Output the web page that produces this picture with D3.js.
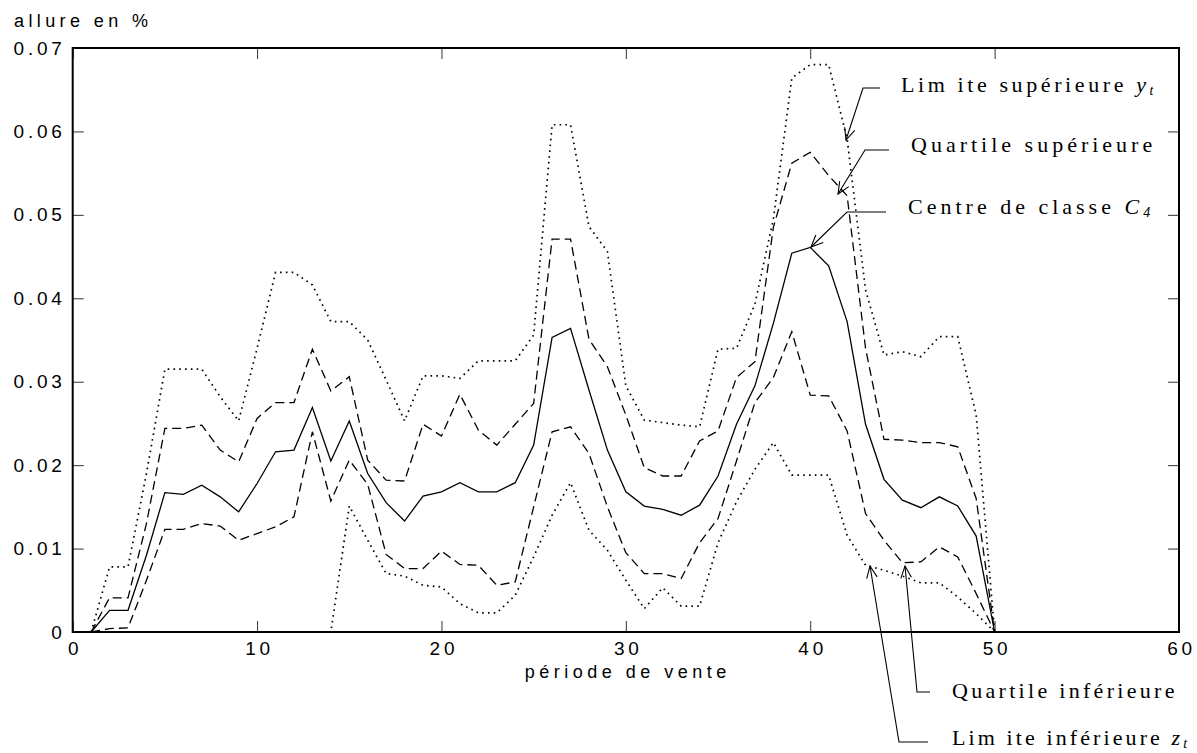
<!DOCTYPE html>
<html>
<head>
<meta charset="utf-8">
<script src="https://cdn.jsdelivr.net/npm/d3@7"></script>
<style>
  body { margin: 0; background: #fff; }
  svg { display: block; }
</style>
</head>
<body>
<div id="chart"></div>
<script>
// periods 1..50 and the five curves
const periods = d3.range(1, 51);

const centre = [0, 0.0026, 0.0026, 0.0092, 0.0167, 0.0165, 0.0176, 0.0162, 0.0144, 0.0178,
  0.0216, 0.0218, 0.0269, 0.0205, 0.0253, 0.0190, 0.0155, 0.0133, 0.0163, 0.0168,
  0.0179, 0.0168, 0.0168, 0.0179, 0.0224, 0.0353, 0.0364, 0.0290, 0.0218, 0.0168,
  0.0151, 0.0147, 0.0140, 0.0152, 0.0187, 0.0249, 0.0295, 0.0370, 0.0454, 0.0461,
  0.0439, 0.0372, 0.0249, 0.0183, 0.0158, 0.0149, 0.0162, 0.0151, 0.0115, 0];

const quartSup = [0, 0.0041, 0.0041, 0.0130, 0.0244, 0.0244, 0.0248, 0.0218, 0.0204, 0.0256,
  0.0275, 0.0275, 0.0339, 0.0289, 0.0306, 0.0206, 0.0182, 0.0181, 0.0249, 0.0235,
  0.0285, 0.0242, 0.0224, 0.0249, 0.0274, 0.0471, 0.0471, 0.0351, 0.0318, 0.0260,
  0.0197, 0.0187, 0.0187, 0.0229, 0.0241, 0.0305, 0.0324, 0.0485, 0.0562, 0.0575,
  0.0547, 0.0523, 0.0340, 0.0231, 0.0230, 0.0227, 0.0227, 0.0222, 0.0160, 0];

const quartInf = [0, 0.0004, 0.0005, 0.0062, 0.0123, 0.0123, 0.0130, 0.0127, 0.0110, 0.0118,
  0.0126, 0.0138, 0.0240, 0.0157, 0.0206, 0.0177, 0.0093, 0.0076, 0.0076, 0.0097,
  0.0081, 0.0080, 0.0056, 0.0060, 0.0150, 0.0240, 0.0246, 0.0214, 0.0150, 0.0095,
  0.0070, 0.0070, 0.0064, 0.0107, 0.0136, 0.0205, 0.0275, 0.0305, 0.0360, 0.0284,
  0.0283, 0.0241, 0.0142, 0.0110, 0.0083, 0.0084, 0.0102, 0.0090, 0.0046, 0];

const limSup = [0, 0.0078, 0.0078, 0.0190, 0.0315, 0.0315, 0.0315, 0.0282, 0.0253, 0.0340,
  0.0431, 0.0431, 0.0416, 0.0372, 0.0372, 0.0350, 0.0302, 0.0253, 0.0307, 0.0307,
  0.0304, 0.0325, 0.0325, 0.0325, 0.0356, 0.0608, 0.0608, 0.0486, 0.0456, 0.0295,
  0.0254, 0.0251, 0.0248, 0.0246, 0.0339, 0.0340, 0.0393, 0.0495, 0.0664, 0.0680,
  0.0680, 0.0591, 0.0410, 0.0332, 0.0336, 0.0330, 0.0354, 0.0354, 0.0260, 0];

const limInf = [0, 0, 0, 0, 0, 0, 0, 0, 0, 0,
  0, 0, 0, 0, 0.0151, 0.0110, 0.0070, 0.0067, 0.0056, 0.0054,
  0.0034, 0.0023, 0.0023, 0.0044, 0.0090, 0.0140, 0.0179, 0.0122, 0.0098, 0.0062,
  0.0028, 0.0053, 0.0031, 0.0031, 0.0107, 0.0156, 0.0195, 0.0227, 0.0188, 0.0188,
  0.0188, 0.0116, 0.0080, 0.0074, 0.0067, 0.0059, 0.0059, 0.0042, 0.0022, 0];

const xTicks = [0, 10, 20, 30, 40, 50, 60];
const yTicks = [0, 0.01, 0.02, 0.03, 0.04, 0.05, 0.06, 0.07];

const width = 1197;
const height = 753;
const margin = {top: 48, right: 18, bottom: 121, left: 72.7};

const svg = d3.select('#chart')
  .append('svg')
  .attr('width', width)
  .attr('height', height);

const x = d3.scaleLinear().domain([0, 60]).range([margin.left, width - margin.right]);
const y = d3.scaleLinear().domain([0, 0.07]).range([height - margin.bottom, margin.top]);

const sans = 'Liberation Sans, Arial, sans-serif';
const serif = 'Liberation Serif, Times New Roman, serif';

//ticks point inward on all four sides
function styleAxis(g) {
  g.select('.domain').remove();
  g.selectAll('.tick line').attr('stroke', '#333').attr('stroke-width', 1);
  g.selectAll('.tick text')
    .attr('font-family', sans)
    .attr('font-size', 19)
    .attr('letter-spacing', 3.8)
    .attr('fill', '#000');
}

svg.append('g')
  .attr('transform', `translate(${margin.left},0)`)
  .call(d3.axisLeft(y).tickValues(yTicks).tickSizeInner(-11).tickSizeOuter(0).tickPadding(7)
    .tickFormat(d => d === 0 ? '0' : d.toFixed(2)))
  .call(styleAxis);

svg.append('g')
  .attr('transform', `translate(${width - margin.right},0)`)
  .call(d3.axisRight(y).tickValues(yTicks).tickSizeInner(-11).tickSizeOuter(0).tickFormat(''))
  .call(styleAxis);

svg.append('g')
  .attr('transform', `translate(0,${height - margin.bottom})`)
  .call(d3.axisBottom(x).tickValues(xTicks).tickSizeInner(-11).tickSizeOuter(0).tickPadding(10))
  .call(styleAxis)
  .selectAll('.tick text').attr('dx', 2);

svg.append('g')
  .attr('transform', `translate(0,${margin.top})`)
  .call(d3.axisTop(x).tickValues(xTicks).tickSizeInner(-11).tickSizeOuter(0).tickFormat(''))
  .call(styleAxis);

//axis titles
svg.append('text')
  .text('allure en %')
  .attr('x', 14)
  .attr('y', 27)
  .attr('font-family', sans)
  .attr('font-size', 18)
  .attr('letter-spacing', 4.4);

svg.append('text')
  .text('période de vente')
  .attr('x', x(30) + 2)
  .attr('y', 678)
  .attr('text-anchor', 'middle')
  .attr('font-family', sans)
  .attr('font-size', 18)
  .attr('letter-spacing', 4.5);

//curves
const series = [
  {values: limSup, dash: '1.6,4.2', w: 1.7},
  {values: quartSup, dash: '9,5', w: 1.3},
  {values: centre, dash: null, w: 1.3},
  {values: quartInf, dash: '9,5', w: 1.3},
  {values: limInf, dash: '1.6,4.2', w: 1.7}
];

const line = d3.line()
  .x((d, i) => x(periods[i]))
  .y(d => y(d));

svg.selectAll('path.curve')
  .data(series)
  .enter()
  .append('path')
  .attr('class', 'curve')
  .attr('d', d => line(d.values))
  .attr('fill', 'none')
  .attr('stroke', '#000')
  .attr('stroke-width', d => d.w)
  .attr('stroke-dasharray', d => d.dash);

//frame drawn over the curves so the zero run of the lower limit is hidden
svg.append('rect')
  .attr('x', margin.left)
  .attr('y', margin.top)
  .attr('width', width - margin.left - margin.right)
  .attr('height', height - margin.top - margin.bottom)
  .attr('fill', 'none')
  .attr('stroke', '#000')
  .attr('stroke-width', 2);

//annotations with leader lines and open arrow heads
const notes = [
  {label: 'Lim ite supérieure ', it: 'y', sub: 't', ls: 3.6, tip: [846, 140], elbow: [863, 88], end: [880, 88], tx: 901, ty: 92},
  {label: 'Quartile supérieure', it: '', sub: '', ls: 4, tip: [838, 194], elbow: [865, 150], end: [889, 150], tx: 911, ty: 152},
  {label: 'Centre de classe ', it: 'C', sub: '4', ls: 4, tip: [811, 247], elbow: [847, 212], end: [886, 212], tx: 908, ty: 214},
  {label: 'Quartile inférieure', it: '', sub: '', ls: 3.3, tip: [905, 566], elbow: [917, 692], end: [930, 692], tx: 952, ty: 698},
  {label: 'Lim ite inférieure ', it: 'z', sub: 't', ls: 3.1, tip: [870, 566], elbow: [899, 742], end: [928, 742], tx: 952, ty: 745}
];

notes.forEach(n => {
  svg.append('polyline')
    .attr('points', [n.end, n.elbow, n.tip].map(p => p.join(',')).join(' '))
    .attr('fill', 'none')
    .attr('stroke', '#000')
    .attr('stroke-width', 1.1);

  const ang = Math.atan2(n.elbow[1] - n.tip[1], n.elbow[0] - n.tip[0]);
  const len = 13;
  const spread = 0.42;
  const a = [n.tip[0] + len * Math.cos(ang - spread), n.tip[1] + len * Math.sin(ang - spread)];
  const b = [n.tip[0] + len * Math.cos(ang + spread), n.tip[1] + len * Math.sin(ang + spread)];
  svg.append('polyline')
    .attr('points', [a, n.tip, b].map(p => p.join(',')).join(' '))
    .attr('fill', 'none')
    .attr('stroke', '#000')
    .attr('stroke-width', 1.1);

  const t = svg.append('text')
    .attr('x', n.tx)
    .attr('y', n.ty)
    .attr('font-family', serif)
    .attr('font-size', 22)
    .attr('letter-spacing', n.ls);
  t.append('tspan').text(n.label);
  if (n.it) {
    t.append('tspan').text(n.it).attr('font-style', 'italic');
    t.append('tspan').text(n.sub)
      .attr('font-style', 'italic')
      .attr('font-size', 14)
      .attr('letter-spacing', 0)
      .attr('dy', 3);
  }
});
</script>
</body>
</html>
